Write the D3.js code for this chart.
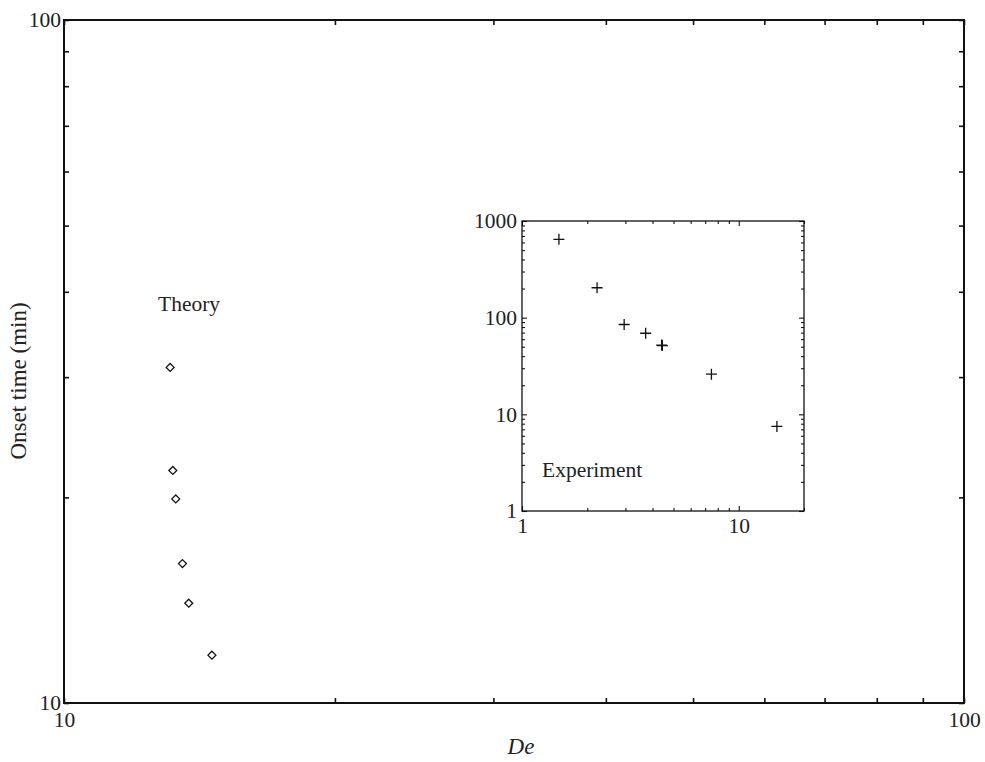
<!DOCTYPE html>
<html>
<head>
<meta charset="utf-8">
<script src="https://cdn.jsdelivr.net/npm/d3@7"></script>
<style>
  body { margin: 0; background: #fff; }
  text { font-family: "Liberation Serif", "Times New Roman", serif; fill: #222; }
</style>
</head>
<body>
<svg id="chart" width="985" height="762"></svg>
<script>
// main plot: theory (De vs onset time)
const theoryDe = [13.12, 13.21, 13.31, 13.54, 13.76, 14.6]
const theoryTime = [31.0, 21.9, 19.9, 16.0, 14.0, 11.75]

// inset: experiment
const expDe = [1.48, 2.22, 2.96, 3.72, 4.41, 4.44, 7.48, 15.0]
const expTime = [646, 204, 85, 69, 52, 51.5, 26, 7.5]

// tick values
const mainTicks = [10, 20, 30, 40, 50, 60, 70, 80, 90, 100]
const mainLabels = [10, 100]
const insetXTicks = [1, 2, 3, 4, 5, 6, 7, 8, 9, 10, 20]
const insetXLabels = [1, 10]
const insetYLabels = [1, 10, 100, 1000]

const svg = d3.select("#chart")

/* main plot */
const main = { left: 64, top: 20, width: 900, height: 683 }

const x = d3.scaleLog().domain([10, 100]).range([0, main.width])
const y = d3.scaleLog().domain([10, 100]).range([main.height, 0])

const g = svg.append("g")
             .attr("transform", "translate(" + main.left + "," + main.top + ")")

const fmtMain = d => mainLabels.includes(d) ? d : ""

g.append("g")
 .attr("class", "axis")
 .attr("transform", "translate(0," + main.height + ")")
 .call(d3.axisBottom(x).tickValues(mainTicks).tickSize(-5).tickPadding(9).tickFormat(fmtMain))
g.append("g")
 .attr("class", "axis")
 .call(d3.axisTop(x).tickValues(mainTicks).tickSize(-5).tickFormat(""))
g.append("g")
 .attr("class", "axis")
 .call(d3.axisLeft(y).tickValues(mainTicks).tickSize(-5).tickPadding(3).tickFormat(fmtMain))
g.append("g")
 .attr("class", "axis")
 .attr("transform", "translate(" + main.width + ",0)")
 .call(d3.axisRight(y).tickValues(mainTicks).tickSize(-5).tickFormat(""))

g.selectAll(".axis .domain").remove()
g.selectAll(".axis line").attr("stroke", "#111").attr("stroke-width", 1.6)
g.selectAll(".axis text").attr("font-size", 21.5).attr("fill", "#222")
 .style("font-family", "'Liberation Serif', serif")

g.append("rect")
 .attr("width", main.width).attr("height", main.height)
 .attr("fill", "none").attr("stroke", "#111").attr("stroke-width", 2)

// theory diamonds
const diamond = d3.symbol().type(d3.symbolDiamond2).size(40)
g.selectAll(".theory")
 .data(theoryDe)
 .enter()
 .append("path")
 .attr("class", "theory")
 .attr("d", diamond)
 .attr("transform", (d, i) => "translate(" + x(d) + "," + y(theoryTime[i]) + ")")
 .attr("fill", "none")
 .attr("stroke", "#111")
 .attr("stroke-width", 1.3)

g.append("text")
 .attr("x", 158 - main.left).attr("y", 311 - main.top)
 .attr("font-size", 21.5)
 .text("Theory")

// axis titles
svg.append("text")
   .attr("transform", "translate(26,381) rotate(-90)")
   .attr("text-anchor", "middle")
   .attr("font-size", 23)
   .text("Onset time (min)")

svg.append("text")
   .attr("x", 521).attr("y", 754)
   .attr("text-anchor", "middle")
   .attr("font-size", 23)
   .attr("font-style", "italic")
   .text("De")

/* inset */
const inset = { left: 522, top: 221, width: 282, height: 290 }

const xi = d3.scaleLog().domain([1, 20]).range([0, inset.width])
const yi = d3.scaleLog().domain([1, 1000]).range([inset.height, 0])

const gi = svg.append("g")
              .attr("transform", "translate(" + inset.left + "," + inset.top + ")")

const insetYTicks = [1, 10, 100].flatMap(p => d3.range(1, 10).map(k => k * p)).concat([1000])

// shorter ticks for minor values
function insetAxis(axis, majors) {
  return sel => {
    sel.call(axis)
    sel.select(".domain").remove()
    sel.selectAll(".tick line").each(function(d) {
      const len = majors.includes(d) ? 5 : 3
      const l = d3.select(this)
      if (l.attr("x2") !== null && +l.attr("x2") !== 0) l.attr("x2", Math.sign(+l.attr("x2")) * len)
      if (l.attr("y2") !== null && +l.attr("y2") !== 0) l.attr("y2", Math.sign(+l.attr("y2")) * len)
    })
  }
}

const fmtX = d => insetXLabels.includes(d) ? d : ""
const fmtY = d => insetYLabels.includes(d) ? d : ""

gi.append("g")
  .attr("class", "axis")
  .attr("transform", "translate(0," + inset.height + ")")
  .call(insetAxis(d3.axisBottom(xi).tickValues(insetXTicks).tickSize(-5).tickPadding(7).tickFormat(fmtX), insetXLabels))
gi.append("g")
  .attr("class", "axis")
  .call(insetAxis(d3.axisTop(xi).tickValues(insetXTicks).tickSize(-5).tickFormat(""), insetXLabels))
gi.append("g")
  .attr("class", "axis")
  .call(insetAxis(d3.axisLeft(yi).tickValues(insetYTicks).tickSize(-5).tickPadding(5).tickFormat(fmtY), insetYLabels))
gi.append("g")
  .attr("class", "axis")
  .attr("transform", "translate(" + inset.width + ",0)")
  .call(insetAxis(d3.axisRight(yi).tickValues(insetYTicks).tickSize(-5).tickFormat(""), insetYLabels))

gi.selectAll(".axis line").attr("stroke", "#111").attr("stroke-width", 1.1)
gi.selectAll(".axis text").attr("font-size", 21.5).attr("fill", "#222")
  .style("font-family", "'Liberation Serif', serif")

gi.append("rect")
  .attr("width", inset.width).attr("height", inset.height)
  .attr("fill", "none").attr("stroke", "#111").attr("stroke-width", 1.3)

// experiment crosses
gi.selectAll(".exp")
  .data(expDe)
  .enter()
  .append("path")
  .attr("class", "exp")
  .attr("d", "M-5.5,0H5.5M0,-5.5V5.5")
  .attr("transform", (d, i) => "translate(" + xi(d) + "," + yi(expTime[i]) + ")")
  .attr("fill", "none")
  .attr("stroke", "#111")
  .attr("stroke-width", 1.3)

gi.append("text")
  .attr("x", 542 - inset.left).attr("y", 477 - inset.top)
  .attr("font-size", 21.5)
  .text("Experiment")
</script>
</body>
</html>
